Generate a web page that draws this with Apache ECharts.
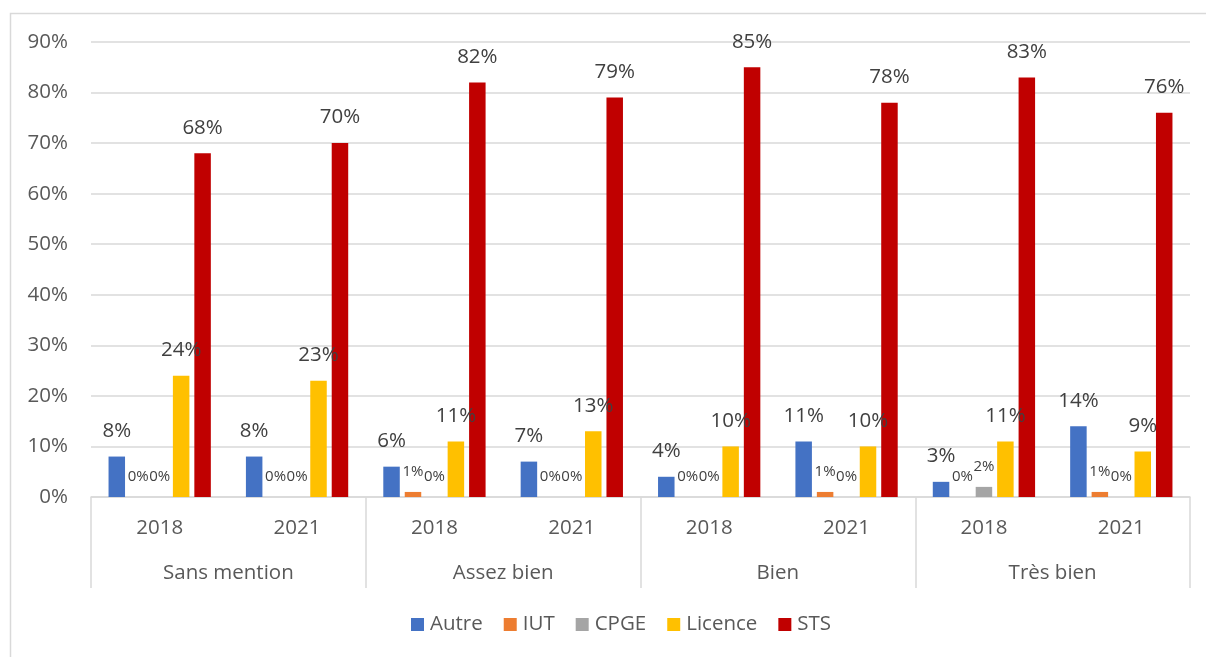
<!DOCTYPE html>
<html>
<head>
<meta charset="utf-8">
<script src="https://cdn.jsdelivr.net/npm/echarts@6/dist/echarts.min.js"></script>
<style>
  html, body { margin: 0; padding: 0; background: #ffffff; }
  #chart { width: 1206px; height: 657px; }
</style>
</head>
<body>
<div id="chart"></div>
<script>
// Répartition des bacheliers par filière, selon la mention et l'année
const years = ['2018', '2021', '2018', '2021', '2018', '2021', '2018', '2021'];
const mentions = ['Sans mention', 'Assez bien', 'Bien', 'Très bien'];
const yTicks = [0, 10, 20, 30, 40, 50, 60, 70, 80, 90];

const autre   = [8, 8, 6, 7, 4, 11, 3, 14];
const iut     = [0, 0, 1, 0, 0, 1, 0, 1];
const cpge    = [0, 0, 0, 0, 0, 0, 2, 0];
const licence = [24, 23, 11, 13, 10, 10, 11, 9];
const sts     = [68, 70, 82, 79, 85, 78, 83, 76];

const FONT = '"Open Sans", "Noto Sans", sans-serif';
const AXIS_GREY = '#595959';
const LINE_GREY = '#D9D9D9';

function bar(name, data, color, small) {
  return {
    name: name,
    type: 'bar',
    data: data,
    barWidth: 16.5,
    barGap: '30%',
    itemStyle: { color: color },
    label: {
      show: true,
      position: 'top',
      distance: small ? 13 : 15,
      formatter: '{c}%',
      fontFamily: FONT,
      fontSize: small ? 15 : 20.5,
      color: '#404040'
    }
  };
}

const chart = echarts.init(document.getElementById('chart'), null, { renderer: 'canvas' });
chart.setOption({
  animation: false,
  backgroundColor: '#ffffff',
  textStyle: { fontFamily: FONT },
  graphic: [{
    type: 'rect',
    shape: { x: 10.5, y: 13.5, width: 1220, height: 670 },
    style: { fill: 'none', stroke: LINE_GREY, lineWidth: 1.5 },
    silent: true
  }],
  grid: { left: 91, right: 16, top: 42, bottom: 160, containLabel: false },
  legend: {
    bottom: 17,
    left: 406,
    icon: 'rect',
    itemWidth: 13,
    itemHeight: 13,
    itemGap: 21,
    textStyle: { fontFamily: FONT, fontSize: 20.5, color: AXIS_GREY, padding: [0, 0, 0, 1] },
    data: ['Autre', 'IUT', 'CPGE', 'Licence', 'STS']
  },
  xAxis: [{
    type: 'category',
    data: years,
    position: 'bottom',
    offset: 0,
    axisLine: { show: true, lineStyle: { color: LINE_GREY, width: 1.5 } },
    axisTick: { show: false },
    axisLabel: { margin: 21, fontFamily: FONT, fontSize: 20.5, color: AXIS_GREY, interval: 0 },
    splitLine: { show: false }
  }, {
    type: 'category',
    data: mentions,
    position: 'bottom',
    offset: 0,
    axisLine: { show: false },
    axisTick: { show: true, inside: false, length: 91, interval: 0, lineStyle: { color: LINE_GREY, width: 1.5 } },
    axisLabel: { margin: 66, fontFamily: FONT, fontSize: 20.5, color: AXIS_GREY, interval: 0 },
    splitLine: { show: false }
  }],
  yAxis: {
    type: 'value',
    min: yTicks[0],
    max: yTicks[yTicks.length - 1],
    interval: 10,
    axisLine: { show: false },
    axisTick: { show: false },
    axisLabel: { margin: 23, formatter: '{value}%', fontFamily: FONT, fontSize: 20.5, color: AXIS_GREY },
    splitLine: { lineStyle: { color: LINE_GREY, width: 1.5 } }
  },
  series: [
    bar('Autre', autre, '#4472C4', false),
    bar('IUT', iut, '#ED7D31', true),
    bar('CPGE', cpge, '#A5A5A5', true),
    bar('Licence', licence, '#FFC000', false),
    bar('STS', sts, '#C00000', false)
  ]
});
</script>
</body>
</html>
